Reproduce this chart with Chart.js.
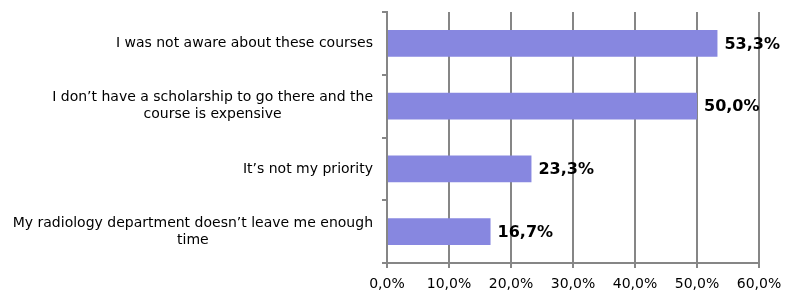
<!DOCTYPE html>
<html>
<head>
<meta charset="utf-8">
<script src="https://cdn.jsdelivr.net/npm/chart.js@4/dist/chart.umd.min.js"></script>
<style>
  html, body { margin: 0; padding: 0; background: #fff; }
  #wrap { width: 786px; height: 296px; position: relative; }
</style>
</head>
<body>
<div id="wrap"><canvas id="chart"></canvas></div>
<script>
// ====== data ======
const categories = [
    ['I was not aware about these courses'],
    ['I don\u2019t have a scholarship to go there and the', 'course is expensive'],
    ['It\u2019s not my priority'],
    ['My radiology department doesn\u2019t leave me enough', 'time'],
];
const values = [53.3, 50.0, 23.3, 16.7];
const xTickMin = 0;
const xTickMax = 60;
const xTickStep = 10;

const FONT = "'DejaVu Sans', Verdana, sans-serif";
const GRID = '#868686';

const pct = (v) => v.toFixed(1).replace('.', ',') + '%';

// category labels: right-aligned block, lines centred inside it
const categoryLabels = {
    id: 'categoryLabels',
    afterDraw(chart) {
        const ctx = chart.ctx;
        const yScale = chart.scales.y;
        const right = yScale.right - 14;
        const lineH = 17;
        ctx.save();
        ctx.font = `14px ${FONT}`;
        ctx.fillStyle = '#000';
        ctx.textAlign = 'center';
        ctx.textBaseline = 'middle';
        categories.forEach((lines, i) => {
            const y = yScale.getPixelForTick(i);
            const w = Math.max(...lines.map((l) => ctx.measureText(l).width));
            const cx = right - w / 2;
            const y0 = y - (lines.length - 1) * lineH / 2;
            lines.forEach((l, j) => ctx.fillText(l, cx, y0 + j * lineH));
        });
        ctx.restore();
    },
};

// value labels after each bar end
const valueLabels = {
    id: 'valueLabels',
    afterDatasetsDraw(chart) {
        const ctx = chart.ctx;
        const meta = chart.getDatasetMeta(0);
        ctx.save();
        ctx.font = `bold 16px ${FONT}`;
        ctx.fillStyle = '#000';
        ctx.textAlign = 'left';
        ctx.textBaseline = 'middle';
        meta.data.forEach((bar, i) => {
            ctx.fillText(pct(values[i]), bar.x + 7, bar.y + 1);
        });
        ctx.restore();
    },
};

new Chart(document.getElementById('chart'), {
    type: 'bar',
    data: {
        labels: categories,
        datasets: [{
            data: values,
            backgroundColor: '#8787E0',
            borderWidth: 0,
            barPercentage: 0.43,
            categoryPercentage: 1,
        }],
    },
    options: {
        indexAxis: 'y',
        responsive: true,
        maintainAspectRatio: false,
        animation: false,
        layout: { padding: { top: 12, right: 27, left: 0, bottom: 0 } },
        plugins: { legend: { display: false }, tooltip: { enabled: false } },
        scales: {
            x: {
                min: xTickMin,
                max: xTickMax,
                ticks: {
                    stepSize: xTickStep,
                    color: '#000',
                    font: { family: FONT, size: 14 },
                    padding: 8,
                    callback: (v) => pct(v),
                },
                grid: { color: GRID, lineWidth: 2, tickLength: 5, tickColor: GRID },
                border: { color: GRID, width: 2 },
                afterFit: (s) => {
                    s.height = 33;
                    s.paddingLeft = 0;
                    s.paddingRight = 0;
                },
            },
            y: {
                ticks: { display: false },
                grid: { drawOnChartArea: false, tickLength: 5, color: GRID, lineWidth: 2, offset: true },
                border: { color: GRID, width: 2 },
                afterFit: (s) => { s.width = 387; },
            },
        },
    },
    plugins: [categoryLabels, valueLabels],
});
</script>
</body>
</html>
